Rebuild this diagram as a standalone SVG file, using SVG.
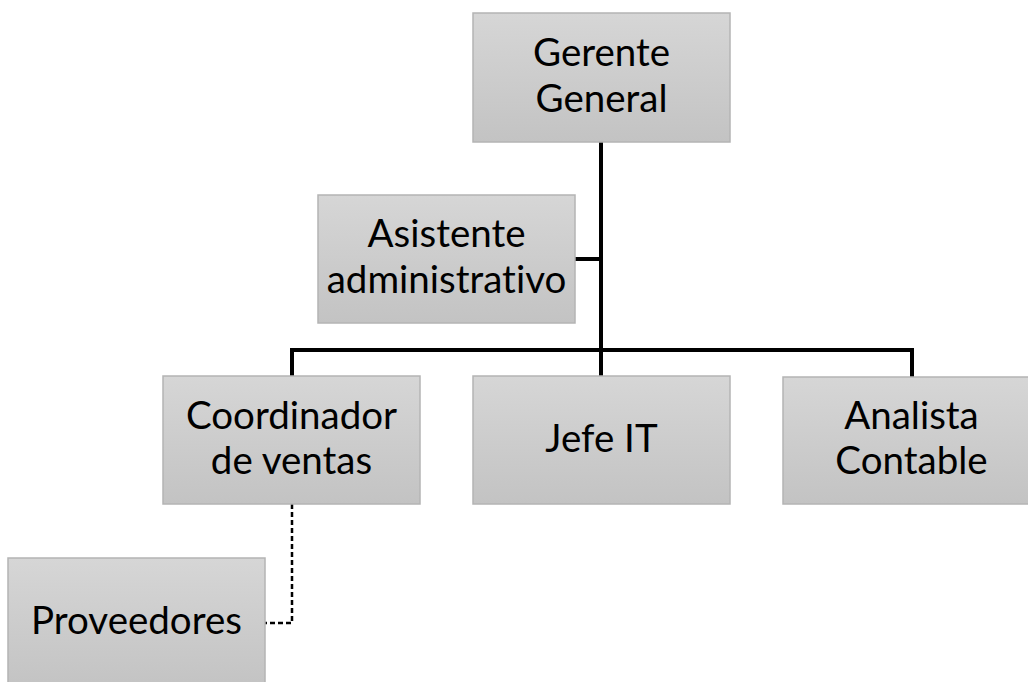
<svg xmlns="http://www.w3.org/2000/svg" width="1028" height="682" viewBox="0 0 1028 682">
<defs>
<linearGradient id="g" x1="0" y1="0" x2="0" y2="1">
<stop offset="0" stop-color="#d6d6d6"/>
<stop offset="1" stop-color="#c3c3c3"/>
</linearGradient>
</defs>
<style>
.box{fill:url(#g);stroke:#b4b4b4;stroke-width:1.5}
.t{font-family:Lato,"Liberation Sans",sans-serif;font-size:38.5px;fill:#000;text-anchor:middle;font-variant-ligatures:none;font-feature-settings:"liga" 0}
.c{fill:none;stroke:#000;stroke-width:4}
.d{fill:none;stroke:#000;stroke-width:2.5;stroke-dasharray:5,3}
</style>
<rect width="1028" height="682" fill="#fff"/>
<g id="connectors">
<path class="c" d="M601,142 V376"/>
<path class="c" d="M575,259 H601"/>
<path class="c" d="M292,376 V350 H912 V377"/>
<path class="d" d="M292,504 V623 H265"/>
</g>
<g id="gerente">
<rect class="box" x="473" y="13" width="257" height="129"/>
<text class="t" x="601.5" y="66">Gerente</text>
<text class="t" x="601.5" y="112">General</text>
</g>
<g id="asistente">
<rect class="box" x="318" y="195" width="257" height="128"/>
<text class="t" x="446.5" y="247">Asistente</text>
<text class="t" x="446.5" y="293">administrativo</text>
</g>
<g id="coordinador">
<rect class="box" x="163" y="376" width="257" height="128"/>
<text class="t" x="291.5" y="429">Coordinador</text>
<text class="t" x="291.5" y="474">de ventas</text>
</g>
<g id="jefe">
<rect class="box" x="473" y="376" width="257" height="128"/>
<text class="t" x="601.5" y="452">Jefe IT</text>
</g>
<g id="analista">
<rect class="box" x="783" y="377" width="257" height="127"/>
<text class="t" x="911.5" y="429">Analista</text>
<text class="t" x="911.5" y="474">Contable</text>
</g>
<g id="proveedores">
<rect class="box" x="8" y="558" width="257" height="130"/>
<text class="t" x="136.5" y="634">Proveedores</text>
</g>
</svg>
